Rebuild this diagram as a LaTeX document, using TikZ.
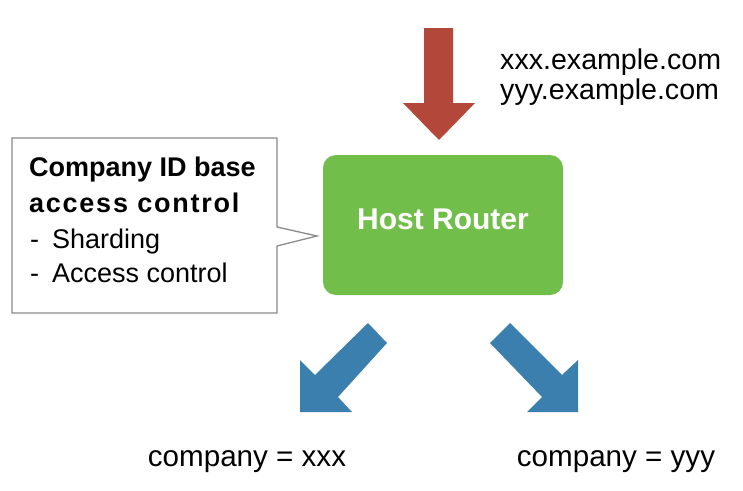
\documentclass[tikz,border=0pt]{standalone}
\usepackage{fontspec}
\setmainfont{Liberation Sans}
\definecolor{redarrow}{HTML}{B3473A}
\definecolor{bluearrow}{HTML}{3A7FAE}
\definecolor{greenbox}{HTML}{72BE4A}
\definecolor{calloutborder}{HTML}{8A8A8A}
\begin{document}
\begin{tikzpicture}[x=1pt,y=-1pt,
  lbl/.style={anchor=base west, inner sep=0pt, font=\fontsize{28.6}{32}\selectfont},
  calltxt/.style={anchor=base west, inner sep=0pt, font=\fontsize{27}{30}\selectfont},
  callhead/.style={anchor=base west, inner sep=0pt, font=\fontsize{27}{30}\selectfont\bfseries}]
\useasboundingbox (0,0) rectangle (743,490);
% red incoming arrow
\fill[redarrow] (424,28) -- (453,28) -- (453,103) -- (475,103) -- (439,140) -- (403,103) -- (424,103) -- cycle;
\node[lbl] (d1) at (500,69) {xxx.example.com};
\node[lbl] (d2) at (500,99) {yyy.example.com};
% host router
\node[fill=greenbox, rounded corners=13pt, minimum width=240pt, minimum height=140pt, inner sep=0pt] (hr) at (443,225) {};
\node[anchor=base, inner sep=0pt, text=white, font=\fontsize{30}{32}\selectfont\bfseries] (hrl) at (443,229) {Host Router};
% callout
\draw[calloutborder, line width=1.3pt, fill=white]
  (12,138) -- (277,138) -- (277,227) -- (317,236) -- (277,246) -- (277,313) -- (12,313) -- cycle;
\node[callhead] (c1) at (29,176) {Company ID base};
\node[callhead, font=\fontsize{27}{30}\selectfont\bfseries\addfontfeature{LetterSpace=6.5}] (c2) at (29,212) {access control};
\node[calltxt] (c3) at (30,248) {-};
\node[calltxt] (c4) at (52,248) {Sharding};
\node[calltxt] (c5) at (30,282) {-};
\node[calltxt] (c6) at (52,282) {Access control};
% blue outgoing arrows
\fill[bluearrow] (368,323) -- (387,343) -- (338,397) -- (352,412) -- (300,412) -- (300,360) -- (315,375) -- cycle;
\fill[bluearrow] (510,323) -- (490,343) -- (542,397) -- (527,412) -- (578,412) -- (578,360) -- (562,375) -- cycle;
\node[lbl, anchor=base, font=\fontsize{29.6}{32}\selectfont] (t1) at (247,466) {company = xxx};
\node[lbl, anchor=base, font=\fontsize{29.6}{32}\selectfont] (t2) at (616,466) {company = yyy};
\end{tikzpicture}
\end{document}
